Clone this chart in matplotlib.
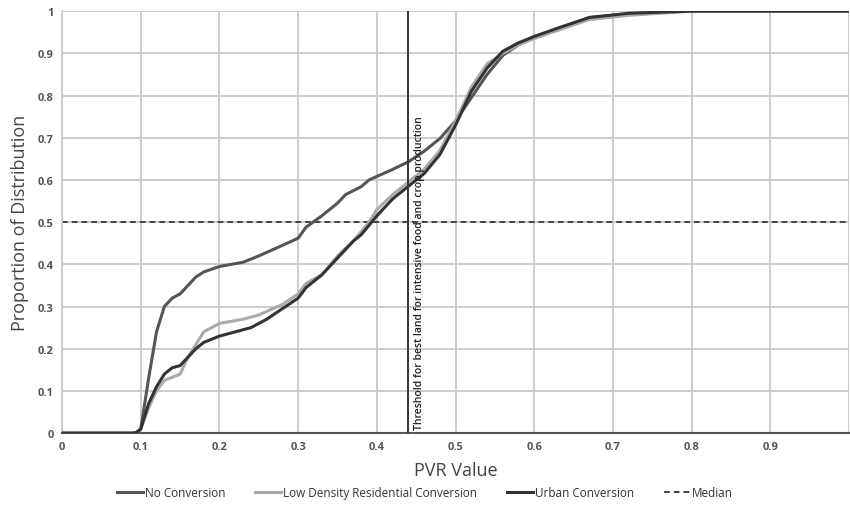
import matplotlib
matplotlib.use("Agg")
import matplotlib.pyplot as plt
from matplotlib.ticker import FixedLocator

plt.rcParams['font.family'] = ['Open Sans', 'DejaVu Sans']

# Data
x_no = [0, 0.09, 0.095, 0.1, 0.11, 0.12, 0.13, 0.14, 0.15, 0.16, 0.17, 0.18, 0.2, 0.23, 0.25, 0.28, 0.3, 0.31, 0.33,
        0.35, 0.36, 0.38, 0.39, 0.42, 0.44, 0.46, 0.48, 0.5, 0.52, 0.54, 0.56, 0.58, 0.6, 0.63, 0.67, 0.7, 0.75, 0.8, 1.0]
y_no = [0, 0, 0.002, 0.01, 0.13, 0.24, 0.30, 0.32, 0.33, 0.35, 0.37, 0.382, 0.395, 0.405, 0.42, 0.445, 0.462, 0.488, 0.515,
        0.545, 0.565, 0.584, 0.60, 0.625, 0.643, 0.668, 0.698, 0.74, 0.795, 0.85, 0.895, 0.92, 0.94, 0.955, 0.985, 0.99, 0.997, 1.0, 1.0]

x_low = [0, 0.09, 0.095, 0.1, 0.11, 0.12, 0.13, 0.15, 0.16, 0.17, 0.18, 0.2, 0.23, 0.25, 0.28, 0.3, 0.31, 0.33, 0.35,
         0.37, 0.39, 0.4, 0.42, 0.44, 0.46, 0.48, 0.5, 0.52, 0.54, 0.56, 0.58, 0.6, 0.63, 0.67, 0.72, 0.8, 1.0]
y_low = [0, 0, 0.002, 0.01, 0.06, 0.10, 0.125, 0.14, 0.18, 0.21, 0.24, 0.26, 0.27, 0.28, 0.305, 0.33, 0.355, 0.375, 0.42,
         0.455, 0.50, 0.53, 0.565, 0.595, 0.625, 0.67, 0.74, 0.82, 0.875, 0.90, 0.92, 0.935, 0.955, 0.98, 0.99, 1.0, 1.0]

x_urb = [0, 0.09, 0.095, 0.1, 0.11, 0.12, 0.13, 0.14, 0.15, 0.17, 0.18, 0.2, 0.23, 0.24, 0.26, 0.28, 0.3, 0.31, 0.33,
         0.35, 0.37, 0.38, 0.4, 0.42, 0.44, 0.46, 0.48, 0.5, 0.52, 0.54, 0.56, 0.58, 0.6, 0.63, 0.67, 0.72, 0.8, 1.0]
y_urb = [0, 0, 0.002, 0.01, 0.07, 0.11, 0.14, 0.155, 0.16, 0.20, 0.215, 0.23, 0.245, 0.25, 0.27, 0.295, 0.32, 0.345, 0.375,
         0.415, 0.455, 0.47, 0.515, 0.555, 0.585, 0.615, 0.66, 0.73, 0.81, 0.865, 0.905, 0.925, 0.94, 0.96, 0.985, 0.995, 1.0, 1.0]

x_ticks = [0, 0.1, 0.2, 0.3, 0.4, 0.5, 0.6, 0.7, 0.8, 0.9, 1.0]
x_tick_labels = ['0', '0.1', '0.2', '0.3', '0.4', '0.5', '0.6', '0.7', '0.8', '0.9', '']
y_ticks = [0, 0.1, 0.2, 0.3, 0.4, 0.5, 0.6, 0.7, 0.8, 0.9, 1.0]
y_tick_labels = ['0', '0.1', '0.2', '0.3', '0.4', '0.5', '0.6', '0.7', '0.8', '0.9', '1']

median = 0.5
threshold = 0.44

fig = plt.figure(figsize=(8.5, 5.06), dpi=100)
ax = fig.add_axes([0.073, 0.142, 0.926, 0.834])

ax.plot(x_no, y_no, color='#555555', lw=2.2, label='No Conversion', zorder=3)
ax.plot(x_low, y_low, color='#aaaaaa', lw=2.2, label='Low Density Residential Conversion', zorder=3)
ax.plot(x_urb, y_urb, color='#333333', lw=2.2, label='Urban Conversion', zorder=4)
ax.axhline(median, color='#444444', lw=1.4, ls=(0, (3, 2)), label='Median', zorder=2)
ax.axvline(threshold, color='#333333', lw=1.4, zorder=5)
ax.text(threshold + 0.007, 0.01, 'Threshold for best land for intensive food and crop production',
        rotation=90, ha='left', va='bottom', fontsize=7.5, color='#222222', fontweight='semibold',
        family=['Open Sans', 'DejaVu Sans'], zorder=6)

ax.set_xlim(0, 1)
ax.set_ylim(0, 1)
ax.xaxis.set_major_locator(FixedLocator(x_ticks))
ax.yaxis.set_major_locator(FixedLocator(y_ticks))
ax.set_xticklabels(x_tick_labels)
ax.set_yticklabels(y_tick_labels)
ax.grid(True, color='#c8c8c8', lw=1.3)
ax.set_axisbelow(True)
for s in ['top', 'right']:
    ax.spines[s].set_visible(False)
ax.spines['left'].set_color('#c8c8c8')
ax.spines['left'].set_linewidth(1.3)
ax.spines['bottom'].set_color('#555555')
ax.spines['bottom'].set_linewidth(1.5)
ax.tick_params(length=0, labelsize=8, labelcolor='#555555', pad=6)
for t in ax.get_xticklabels() + ax.get_yticklabels():
    t.set_fontweight('bold')

ax.set_xlabel('PVR Value', fontsize=13, color='#444444', labelpad=6)
ax.set_ylabel('Proportion of Distribution', fontsize=13, color='#444444', labelpad=6)

leg = fig.legend(loc='center', bbox_to_anchor=(0.5, 0.025), ncol=4, frameon=False,
                 fontsize=8.5, handlelength=2.2, handletextpad=0.2, columnspacing=2.5)
for t in leg.get_texts():
    t.set_color('#333333')

fig.savefig('out.png', dpi=100)
